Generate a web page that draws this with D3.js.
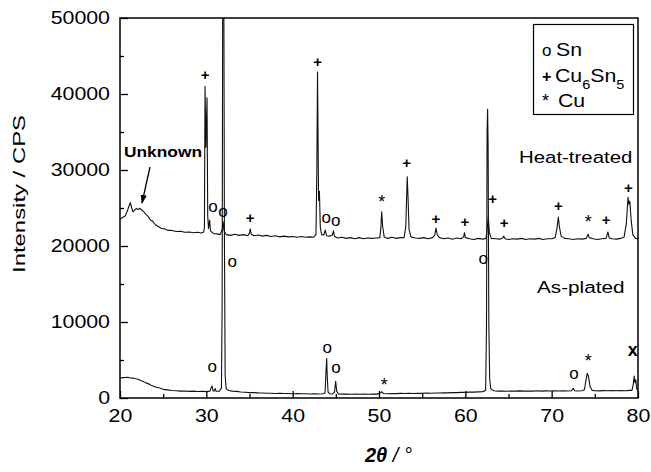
<!DOCTYPE html>
<html>
<head>
<meta charset="utf-8">
<script src="https://cdn.jsdelivr.net/npm/d3@7"></script>
<style>
  body { margin: 0; background: #fff; }
  text { font-family: "Liberation Sans", Arial, Helvetica, sans-serif; }
</style>
</head>
<body>
<div id="xrd_chart"></div>
<script>
// 2theta (deg), intensity (CPS)
var heatTreated = [
  [20.0, 23500], [20.3, 23750], [20.6, 23950], [20.85, 24600], [21.05, 25300], [21.2, 25700],
  [21.35, 25000], [21.5, 24500], [21.7, 24750], [21.9, 24950], [22.1, 24800], [22.3, 24950],
  [22.55, 24700], [22.8, 24450], [23.0, 24150], [23.25, 23900], [23.5, 23450], [23.8, 23250],
  [24.1, 22800], [24.4, 22600], [24.8, 22300], [25.2, 22250], [25.6, 22050], [26.0, 22050],
  [26.5, 21900], [27.0, 21950], [27.5, 21800], [28.0, 21850], [28.5, 21750], [29.0, 21800],
  [29.4, 21700], [29.7, 21850], [29.78, 22500], [29.85, 41000], [29.95, 33000], [30.08, 39500],
  [30.16, 24000], [30.25, 22300], [30.38, 23400], [30.48, 22000], [30.8, 21650], [31.2, 21600],
  [31.6, 21500], [31.85, 22200], [31.95, 23200], [32.05, 22000], [32.3, 21500], [32.8, 21400],
  [33.3, 21550], [33.8, 21400], [34.3, 21500], [34.8, 21350], [35.0, 21700], [35.08, 22250],
  [35.2, 21550], [35.5, 21350], [36.0, 21450], [36.5, 21300], [37.0, 21400], [37.5, 21250],
  [38.0, 21350], [38.5, 21200], [39.0, 21300], [39.5, 21200], [40.0, 21250], [40.5, 21150],
  [41.0, 21250], [41.5, 21150], [42.0, 21200], [42.4, 21150], [42.7, 21500], [42.8, 30000],
  [42.88, 42900], [42.95, 33000], [43.0, 26000], [43.1, 27200], [43.2, 22500], [43.35, 21500],
  [43.6, 21450], [43.78, 22100], [43.92, 21350], [44.3, 21300], [44.6, 21450], [44.72, 22000],
  [44.85, 21250], [45.2, 21050], [45.7, 21150], [46.2, 21000], [46.7, 21100], [47.2, 20950],
  [47.7, 21100], [48.2, 20950], [48.7, 21050], [49.2, 21000], [49.7, 21050], [50.1, 21100],
  [50.22, 22500], [50.31, 24500], [50.42, 22600], [50.6, 21200], [51.0, 21000], [51.5, 21150],
  [52.0, 21000], [52.5, 21100], [52.9, 21100], [53.1, 22500], [53.27, 29100], [53.36, 26500],
  [53.48, 22200], [53.7, 21200], [54.2, 21050], [54.7, 21000], [55.2, 21100], [55.7, 20950],
  [56.2, 21100], [56.45, 21400], [56.6, 22350], [56.75, 21500], [57.0, 21100], [57.5, 20950],
  [58.0, 21050], [58.5, 20900], [59.0, 21050], [59.5, 20950], [59.8, 21200], [59.9, 21750],
  [60.0, 21100], [60.5, 20950], [61.0, 20850], [61.5, 21000], [62.0, 20900], [62.4, 21000],
  [62.55, 22500], [62.66, 23800], [62.78, 21800], [63.0, 21000], [63.5, 20950], [64.0, 20900],
  [64.35, 21100], [64.45, 21300], [64.6, 20950], [65.0, 20850], [65.5, 20950], [66.0, 20900],
  [66.5, 21000], [67.0, 20850], [67.5, 20950], [68.0, 20900], [68.5, 21000], [69.0, 20850],
  [69.5, 20950], [70.0, 20950], [70.4, 21100], [70.6, 22200], [70.77, 23800], [70.9, 22500],
  [71.1, 21300], [71.5, 21000], [72.0, 20950], [72.5, 20850], [73.0, 20950], [73.5, 20900],
  [74.0, 21000], [74.22, 21550], [74.35, 21100], [74.8, 20950], [75.3, 20850], [75.8, 20950],
  [76.3, 21000], [76.52, 21850], [76.65, 21100], [77.0, 20950], [77.5, 20900], [78.0, 21000],
  [78.4, 21200], [78.65, 23000], [78.85, 26400], [78.95, 25500], [79.05, 25900], [79.2, 23500],
  [79.4, 21500], [79.7, 21000], [80.0, 20950]
];

var asPlated = [
  [20.0, 2600], [20.3, 2680], [20.6, 2700], [20.9, 2740], [21.2, 2640], [21.5, 2620],
  [21.8, 2530], [22.1, 2460], [22.4, 2290], [22.7, 2160], [23.0, 1990], [23.3, 1860],
  [23.6, 1690], [23.9, 1560], [24.2, 1410], [24.6, 1310], [25.0, 1140], [25.5, 1070],
  [26.0, 990], [26.5, 960], [27.0, 910], [27.5, 920], [28.0, 870], [28.5, 910],
  [29.0, 850], [29.5, 890], [30.0, 840], [30.4, 900], [30.55, 1300], [30.65, 1600],
  [30.78, 950], [30.9, 900], [31.02, 1250], [31.12, 900], [31.5, 880], [31.75, 1300],
  [31.83, 12000], [31.9, 56000], [32.02, 56000], [32.1, 20000], [32.18, 3000], [32.3, 1200],
  [32.6, 980], [33.0, 900], [33.5, 870], [34.0, 790], [34.5, 760], [35.0, 710],
  [35.5, 710], [36.0, 670], [36.5, 660], [37.0, 630], [37.5, 630], [38.0, 600],
  [38.5, 610], [39.0, 590], [39.5, 590], [40.0, 560], [40.5, 570], [41.0, 550],
  [41.5, 560], [42.0, 530], [42.5, 560], [43.0, 520], [43.5, 550], [43.75, 650],
  [43.86, 3500], [43.94, 5200], [44.0, 3000], [44.1, 800], [44.3, 550], [44.6, 520],
  [44.85, 800], [44.98, 2200], [45.1, 900], [45.3, 530], [45.8, 510], [46.3, 520],
  [46.8, 500], [47.3, 520], [47.8, 500], [48.3, 510], [48.8, 490], [49.3, 510],
  [49.8, 510], [50.2, 700], [50.35, 820], [50.5, 600], [51.0, 560], [51.5, 590],
  [52.0, 580], [52.5, 610], [53.0, 590], [53.5, 620], [54.0, 600], [54.5, 630],
  [55.0, 610], [55.5, 650], [56.0, 630], [56.5, 660], [57.0, 650], [57.5, 680],
  [58.0, 670], [58.5, 710], [59.0, 710], [59.5, 740], [60.0, 740], [60.5, 770],
  [61.0, 770], [61.5, 810], [62.0, 840], [62.35, 1000], [62.45, 9000], [62.52, 35000],
  [62.58, 38000], [62.64, 33000], [62.72, 10000], [62.82, 2500], [62.95, 1200], [63.3, 960],
  [63.8, 910], [64.3, 930], [64.8, 890], [65.3, 920], [65.8, 900], [66.3, 940],
  [66.8, 900], [67.3, 930], [67.8, 910], [68.3, 950], [68.8, 910], [69.3, 940],
  [69.8, 920], [70.3, 950], [70.8, 920], [71.3, 960], [71.8, 930], [72.3, 950],
  [72.5, 1270], [72.65, 950], [73.0, 920], [73.5, 960], [73.8, 1100], [73.95, 2200],
  [74.12, 3250], [74.25, 2900], [74.45, 1500], [74.7, 1000], [75.0, 960], [75.5, 940],
  [76.0, 970], [76.5, 950], [77.0, 980], [77.5, 950], [78.0, 990], [78.5, 960],
  [79.0, 1000], [79.3, 1000], [79.45, 1800], [79.56, 2900], [79.65, 2000], [79.75, 2400],
  [79.85, 1200], [80.0, 1000]
];

// phase markers: 2theta, intensity of the symbol centre, symbol
var heatMarks = [
  [29.85, 42500, "+"], [30.77, 25130, "o"], [31.93, 24470, "o"], [35.06, 23680, "+"],
  [42.88, 44210, "+"], [43.88, 23640, "o"], [45.0, 23290, "o"], [50.31, 26450, "*"],
  [53.21, 30960, "+"], [56.6, 23550, "+"], [59.96, 23200, "+"], [63.17, 26280, "+"],
  [64.48, 23070, "+"], [70.77, 25260, "+"], [74.25, 23780, "*"], [76.3, 23510, "+"],
  [78.88, 27670, "+"]
];
var plateMarks = [
  [30.69, 3990, "o"], [33.0, 17860, "o"], [44.0, 6540, "o"], [45.02, 3910, "o"],
  [50.6, 2370, "*"], [62.08, 18250, "o"], [72.59, 3120, "o"], [74.25, 5530, "*"],
  [79.39, 6180, "x"]
];

var legendSymbols = ["o", "+", "*"];
var legendNames = [["Sn"], ["Cu", "6", "Sn", "5"], ["Cu"]];

var xTicks = [20, 30, 40, 50, 60, 70, 80];
var xMinor = [25, 35, 45, 55, 65, 75];
var yTicks = [0, 10000, 20000, 30000, 40000, 50000];
var yMinor = [5000, 15000, 25000, 35000, 45000];

var margin = {top: 18, right: 13, bottom: 74, left: 120},
    width = 651 - margin.left - margin.right,
    height = 472 - margin.top - margin.bottom;
var stretch = 1.22;

var root = d3.select("#xrd_chart")
  .append("svg")
    .attr("width", 651)
    .attr("height", 472);
var svg = root.append("g")
    .attr("transform", "translate(" + margin.left + "," + margin.top + ")");

var x = d3.scaleLinear().domain([20, 80]).range([0, width]);
var y = d3.scaleLinear().domain([0, 50000]).range([height, 0]);

svg.append("clipPath").attr("id", "plotclip")
  .append("rect").attr("width", width).attr("height", height);

// traces
var line = d3.line()
  .x(function(d) { return x(d[0]); })
  .y(function(d) { return y(d[1]); });

[heatTreated, asPlated].forEach(function(series) {
  svg.append("path")
    .datum(series)
    .attr("clip-path", "url(#plotclip)")
    .attr("fill", "none")
    .attr("stroke", "#111")
    .attr("stroke-width", 1.1)
    .attr("stroke-linejoin", "round")
    .attr("d", line);
});

// axes, ticks pointing inward
function styleAxis(g) {
  g.select(".domain").remove();
  g.selectAll("line").attr("stroke", "#000").attr("stroke-width", 1.3);
  g.attr("font-family", "'Liberation Sans', Arial, sans-serif").attr("font-size", 17.5);
  g.selectAll("text").attr("fill", "#000");
}

svg.append("g")
  .attr("transform", "translate(0," + height + ")")
  .call(d3.axisBottom(x).tickValues(xTicks).tickSize(-7).tickSizeOuter(0).tickPadding(12).tickFormat(d3.format("d")))
  .call(styleAxis)
  .selectAll("text")
    .attr("transform", "scale(" + stretch + ",1)");

svg.append("g")
  .attr("transform", "translate(0," + height + ")")
  .call(d3.axisBottom(x).tickValues(xMinor).tickSize(-4).tickSizeOuter(0).tickFormat(""))
  .call(styleAxis);

svg.append("g")
  .call(d3.axisLeft(y).tickValues(yTicks).tickSize(-8).tickSizeOuter(0).tickPadding(10).tickFormat(d3.format("d")))
  .call(styleAxis)
  .selectAll("text")
    .attr("x", -10 / stretch)
    .attr("transform", "scale(" + stretch + ",1)");

svg.append("g")
  .call(d3.axisLeft(y).tickValues(yMinor).tickSize(-4).tickSizeOuter(0).tickFormat(""))
  .call(styleAxis);

// frame
svg.append("rect")
  .attr("width", width)
  .attr("height", height)
  .attr("fill", "none")
  .attr("stroke", "#000")
  .attr("stroke-width", 1.5);

// phase markers
function symbolStyle(s) {
  if (s == "o") return {size: 17, weight: "normal", dy: "0.27em", sx: 1};
  if (s == "+") return {size: 15, weight: "bold", dy: "0.35em", sx: 1};
  if (s == "*") return {size: 18, weight: "normal", dy: "0.6em", sx: 1};
  return {size: 18, weight: "bold", dy: "0.26em", sx: 1};
}

svg.selectAll(".mark")
  .data(heatMarks.concat(plateMarks))
  .enter()
  .append("text")
    .attr("class", "mark")
    .attr("transform", function(d) {
      return "translate(" + x(d[0]) + "," + y(d[1]) + ") scale(" + symbolStyle(d[2]).sx + ",1)";
    })
    .attr("text-anchor", "middle")
    .attr("dy", function(d) { return symbolStyle(d[2]).dy; })
    .style("font-size", function(d) { return symbolStyle(d[2]).size + "px"; })
    .style("font-weight", function(d) { return symbolStyle(d[2]).weight; })
    .text(function(d) { return d[2]; });

// sample labels
root.append("text")
  .attr("transform", "translate(519,163) scale(1.2,1)")
  .style("font-size", "17px")
  .text("Heat-treated");

root.append("text")
  .attr("transform", "translate(537,293) scale(1.22,1)")
  .style("font-size", "17px")
  .text("As-plated");

root.append("text")
  .attr("transform", "translate(124,157) scale(1.12,1)")
  .style("font-size", "15.5px")
  .style("font-weight", "bold")
  .text("Unknown");

// arrow to the broad hump
root.append("defs").append("marker")
  .attr("id", "arrowhead")
  .attr("viewBox", "0 0 10 10")
  .attr("refX", 9).attr("refY", 5)
  .attr("markerWidth", 9).attr("markerHeight", 9)
  .attr("markerUnits", "userSpaceOnUse")
  .attr("orient", "auto")
  .append("path").attr("d", "M0,1.5 L10,5 L0,8.5 Z").attr("fill", "#000");

root.append("line")
  .attr("x1", 150).attr("y1", 167)
  .attr("x2", 142).attr("y2", 203)
  .attr("stroke", "#000")
  .attr("stroke-width", 1.3)
  .attr("marker-end", "url(#arrowhead)");

// legend
root.append("rect")
  .attr("x", 533.5).attr("y", 24.5)
  .attr("width", 100).attr("height", 90)
  .attr("fill", "#fff")
  .attr("stroke", "#000")
  .attr("stroke-width", 1.2);

var legendBase = [55.5, 81.5, 106.5];
var legendNameX = [556, 555, 558];

legendSymbols.forEach(function(s, i) {
  root.append("text")
    .attr("transform", "translate(542," + legendBase[i] + ")")
    .style("font-size", s == "o" ? "17px" : (s == "+" ? "16px" : "18px"))
    .style("font-weight", s == "+" ? "bold" : "normal")
    .text(s);

  var t = root.append("text")
    .attr("transform", "translate(" + legendNameX[i] + "," + legendBase[i] + ") scale(1.12,1)")
    .style("font-size", "19px");
  legendNames[i].forEach(function(part, j) {
    var sub = j % 2 == 1;
    t.append("tspan")
      .attr("dy", j == 0 ? 0 : (sub ? 7 : -7))
      .style("font-size", sub ? "13px" : "19px")
      .text(part);
  });
});

// axis titles
root.append("text")
  .attr("transform", "translate(25,194) rotate(-90)")
  .attr("text-anchor", "middle")
  .attr("textLength", 158)
  .attr("lengthAdjust", "spacingAndGlyphs")
  .style("font-size", "17px")
  .text("Intensity / CPS");

var xt = root.append("text")
  .attr("x", 365).attr("y", 462)
  .style("font-size", "20px");
xt.append("tspan").style("font-weight", "bold").style("font-style", "italic").text("2θ");
xt.append("tspan").style("font-style", "italic").text(" / °");
</script>
</body>
</html>
